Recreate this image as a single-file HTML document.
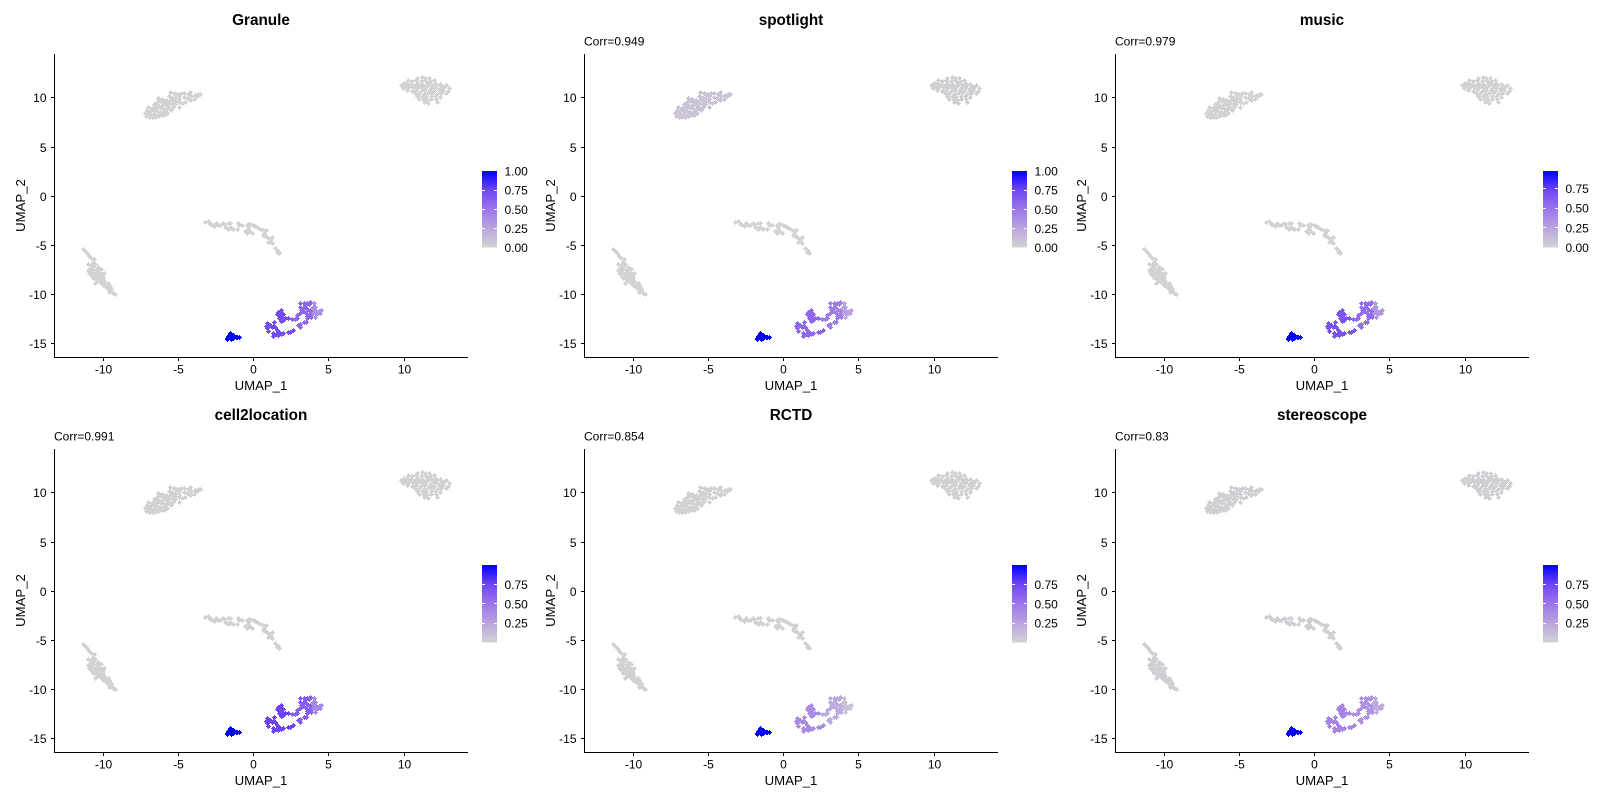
<!DOCTYPE html>
<html lang="en">
<head>
<meta charset="utf-8">
<title>UMAP deconvolution comparison - Granule</title>
<style>
html,body{margin:0;padding:0;background:#fff;width:1600px;height:800px;overflow:hidden}
svg{display:block;font-family:"Liberation Sans",Arial,sans-serif;fill:#000}
</style>
</head>
<body>
<svg id="chart" width="1600" height="800" viewBox="0 0 1600 800" xmlns="http://www.w3.org/2000/svg">
<defs>
<linearGradient id="legend-gradient" x1="0" y1="1" x2="0" y2="0">
<stop offset="0" stop-color="#D3D3D3"/>
<stop offset="0.25" stop-color="#BAA4DF"/>
<stop offset="0.5" stop-color="#9C76EB"/>
<stop offset="0.75" stop-color="#7047F5"/>
<stop offset="1" stop-color="#0000FF"/>
</linearGradient>
</defs>
</svg>
<script>
// ---- chart data (UMAP coordinates) ----
const panelTitles = ["Granule", "spotlight", "music", "cell2location", "RCTD", "stereoscope"];
const panelCorr = ["", "Corr=0.949", "Corr=0.979", "Corr=0.991", "Corr=0.854", "Corr=0.83"];
const xTicks = [-10, -5, 0, 5, 10];
const yTicks = [10, 5, 0, -5, -10, -15];

const legendDomains = [[0, 1], [0, 1], [0, 0.97], [0.002, 1], [0.002, 1], [0.002, 1]];
const legendTicks = [
  [0, 0.25, 0.5, 0.75, 1],
  [0, 0.25, 0.5, 0.75, 1],
  [0, 0.25, 0.5, 0.75],
  [0.25, 0.5, 0.75],
  [0.25, 0.5, 0.75],
  [0.25, 0.5, 0.75]
];

const clusterTopLeft = [[-7.1,8.1],[-6.9,8.0],[-6.7,8.0],[-6.5,7.95],[-6.3,8.05],[-7.2,8.4],[-7.0,8.35],[-6.75,8.3],[-6.55,8.3],[-6.3,8.35],[-6.1,8.2],[-5.9,8.25],[-7.05,8.7],[-6.85,8.65],[-6.6,8.6],[-6.35,8.65],[-6.15,8.55],[-5.9,8.6],[-5.7,8.45],[-7.0,9.0],[-6.7,8.95],[-6.45,8.95],[-6.2,8.9],[-5.95,8.9],[-5.7,8.8],[-5.45,8.7],[-6.6,9.3],[-6.3,9.25],[-6.05,9.2],[-5.8,9.2],[-5.55,9.05],[-5.3,9.0],[-6.4,9.55],[-6.15,9.6],[-5.9,9.5],[-5.65,9.45],[-5.4,9.35],[-5.15,9.3],[-4.95,9.05],[-6.3,9.9],[-6.05,9.85],[-5.75,9.75],[-5.5,9.7],[-5.2,9.6],[-4.95,9.5],[-4.7,9.4],[-5.6,10.1],[-5.4,10.0],[-5.15,9.95],[-4.9,9.85],[-5.54,10.57],[-5.25,10.4],[-5.1,10.3],[-5.0,10.35],[-4.8,10.45],[-4.6,10.4],[-4.9,10.15],[-4.6,10.05],[-4.4,9.9],[-4.55,9.5],[-4.2,9.75],[-4.35,10.35],[-4.1,10.1],[-3.95,9.85],[-3.85,10.25],[-3.65,10.3],[-3.5,10.35],[-3.75,10.1],[-4.2,10.55],[-6.9,8.5],[-6.45,8.15],[-6.05,8.4],[-6.55,9.1],[-5.6,8.95],[-5.25,9.45],[-6.0,9.65],[-5.35,9.8]];

const clusterTopRight = [[10.9,12.0],[11.2,12.05],[11.45,11.95],[11.7,12.0],[10.3,11.75],[10.55,11.7],[10.85,11.8],[11.15,11.7],[11.45,11.75],[11.75,11.7],[12.0,11.75],[10.0,11.5],[10.2,11.45],[10.5,11.4],[10.9,11.5],[11.2,11.4],[11.55,11.5],[11.85,11.4],[12.1,11.45],[12.4,11.4],[9.85,11.2],[10.15,11.15],[10.4,11.25],[10.75,11.2],[11.05,11.15],[11.3,11.2],[11.65,11.25],[11.95,11.15],[12.25,11.2],[12.55,11.15],[12.85,11.25],[9.95,10.95],[10.3,10.9],[10.6,11.0],[10.9,10.9],[11.2,10.95],[11.5,11.0],[11.8,10.9],[12.1,10.95],[12.4,10.9],[12.7,11.0],[13.05,10.95],[10.25,10.7],[10.55,10.65],[10.85,10.75],[11.15,10.65],[11.45,10.7],[11.75,10.75],[12.05,10.65],[12.35,10.7],[12.65,10.75],[12.95,10.65],[10.75,10.4],[11.05,10.45],[11.35,10.35],[11.6,10.4],[11.9,10.45],[12.2,10.35],[12.5,10.4],[12.8,10.45],[10.9,10.1],[11.2,10.15],[11.5,10.05],[11.8,10.1],[12.1,10.15],[12.4,10.05],[11.0,9.8],[11.3,9.85],[11.55,9.75],[11.85,9.8],[12.15,9.85],[11.35,9.5],[11.6,9.45],[12.2,9.55]];

const clusterMiddle = [[-3.16,-2.64],[-2.94,-2.71],[-2.76,-2.91],[-2.58,-3.08],[-2.43,-2.81],[-2.2,-2.95],[-1.98,-2.74],[-1.83,-3.15],[-1.65,-3.35],[-1.43,-3.32],[-1.65,-2.81],[-1.09,-3.39],[-0.98,-2.81],[-0.76,-2.98],[-0.43,-2.98],[-0.2,-2.88],[0.02,-2.98],[0.24,-3.22],[0.46,-3.42],[-0.31,-3.42],[-0.43,-3.76],[-0.09,-3.83],[0.64,-3.49],[0.86,-3.49],[0.69,-4.0],[0.91,-4.23],[1.13,-4.5],[1.02,-4.67],[1.24,-4.84],[1.24,-4.17],[1.53,-5.45],[1.58,-5.69],[1.73,-5.79],[-3.0,-2.6],[-2.85,-2.85],[-2.3,-3.0],[-1.75,-3.25],[-1.55,-3.2],[-1.3,-3.35],[-1.5,-2.75],[-0.9,-3.0],[-0.3,-2.9],[-0.35,-3.2],[-0.5,-3.55],[-0.25,-3.6],[0.1,-3.1],[0.8,-4.1],[1.0,-4.3],[0.75,-3.8],[1.45,-5.3],[1.65,-5.6],[-1.9,-2.9]];

const clusterLeft = [[-11.27,-5.45],[-11.14,-5.62],[-11.05,-5.86],[-10.91,-6.13],[-10.76,-6.37],[-10.58,-6.44],[-10.65,-6.71],[-10.47,-6.95],[-10.98,-6.95],[-10.76,-7.05],[-10.98,-7.56],[-10.87,-7.83],[-10.65,-7.49],[-10.43,-7.56],[-10.25,-7.39],[-10.07,-7.45],[-10.76,-8.06],[-10.54,-8.17],[-10.32,-8.06],[-10.09,-7.89],[-9.87,-7.89],[-10.65,-8.4],[-10.43,-8.5],[-10.2,-8.3],[-9.98,-8.4],[-10.47,-8.91],[-10.16,-8.74],[-9.87,-8.64],[-9.65,-8.91],[-9.98,-9.08],[-9.76,-9.25],[-9.54,-9.25],[-9.65,-9.52],[-9.43,-9.42],[-9.54,-9.76],[-9.32,-9.86],[-9.2,-10.0],[-10.83,-7.39],[-10.32,-7.22],[-10.09,-8.91],[-9.43,-9.59],[-10.9,-7.7],[-10.7,-7.75],[-10.5,-7.85],[-10.3,-7.75],[-10.6,-8.0],[-10.45,-8.25],[-10.25,-8.25],[-10.05,-8.15],[-10.6,-7.25],[-10.1,-8.6],[-10.35,-8.55],[-10.7,-7.55],[-9.85,-9.05],[-9.6,-9.05]];

const clusterBlue = [[-1.75,-14.45],[-1.65,-14.3],[-1.6,-14.15],[-1.5,-14.0],[-1.45,-14.3],[-1.35,-14.2],[-1.3,-14.45],[-1.55,-14.5],[-1.7,-14.6],[-1.45,-14.6],[-1.25,-14.3],[-1.15,-14.35],[-1.05,-14.35],[-0.9,-14.35]];

const clusterPurpleLower = [[0.91,-12.97],[0.87,-13.24],[0.96,-13.48],[1.02,-13.72],[1.24,-13.38],[1.47,-13.31],[1.58,-13.65],[1.73,-13.82],[1.36,-13.99],[1.31,-14.22],[1.51,-14.09],[1.69,-14.16],[1.84,-14.09],[1.98,-13.99],[2.31,-13.89],[2.47,-13.82],[2.64,-13.65],[1.1,-13.1],[1.0,-13.3],[1.3,-13.2],[1.42,-12.8],[1.84,-11.61],[1.69,-11.78],[1.91,-11.89],[1.62,-12.02],[1.8,-12.12],[1.98,-12.02],[1.76,-12.46],[1.91,-12.56],[2.02,-12.63],[1.84,-12.7],[1.9,-12.3],[1.7,-12.2],[2.13,-12.46],[2.31,-12.39]];

const clusterPurpleUpper = [[2.58,-12.53],[2.76,-12.56],[2.91,-12.46],[2.91,-12.12],[3.13,-11.95],[3.02,-13.14],[3.13,-13.31],[3.09,-13.07],[3.36,-12.8],[3.51,-12.8],[3.62,-12.46],[3.62,-12.22],[3.84,-12.36],[3.91,-12.02],[3.13,-10.94],[3.13,-11.27],[3.36,-11.27],[3.47,-11.11],[3.36,-10.87],[3.58,-10.94],[3.8,-10.77],[3.2,-11.61],[3.51,-11.89],[3.8,-11.68],[3.75,-12.05],[3.6,-11.5],[3.4,-11.4],[3.7,-11.05],[3.3,-11.75]];

const clusterPurpleLight = [[3.98,-11.27],[4.02,-10.94],[4.13,-11.61],[4.13,-12.29],[4.2,-12.02],[4.47,-11.95],[4.36,-11.68],[4.53,-11.61],[4.29,-11.95],[3.95,-11.4],[4.0,-11.9],[4.1,-11.3]];

const clusterNames = ["top-left", "top-right", "middle", "left", "blue", "purple-lower", "purple-upper", "purple-light"];
const clusterPoints = [clusterTopLeft, clusterTopRight, clusterMiddle, clusterLeft, clusterBlue, clusterPurpleLower, clusterPurpleUpper, clusterPurpleLight];

// expression value of each cluster, one array per panel
const valuesGranule      = [0,    0, 0, 0, 1, 0.72, 0.58, 0.36];
const valuesSpotlight    = [0.08, 0.02, 0, 0, 1, 0.58, 0.46, 0.26];
const valuesMusic        = [0,    0, 0, 0, 1, 0.68, 0.55, 0.32];
const valuesCell2location= [0.01, 0.01, 0.01, 0.01, 1, 0.76, 0.62, 0.40];
const valuesRCTD         = [0.01, 0.01, 0.01, 0.01, 1, 0.38, 0.22, 0.08];
const valuesStereoscope  = [0.02, 0.02, 0.02, 0.02, 1, 0.42, 0.34, 0.22];
const panelValues = [valuesGranule, valuesSpotlight, valuesMusic, valuesCell2location, valuesRCTD, valuesStereoscope];

// ---- layout ----
const NS = "http://www.w3.org/2000/svg";
const svg = document.getElementById("chart");
const colStep = 530.3, rowStep = 395;
const plotLeft = 54, plotRight = 468, plotTop = 54, plotBottom = 357;
const xScale = function (u) { return 253 + 15.05 * u; };
const yScale = function (u) { return 195.7 - 9.84 * u; };
const colorStops = [[211,211,211],[186,164,223],[156,118,235],[112,71,245],[0,0,255]];

function colorFor(v) {
  const t = Math.max(0, Math.min(1, v)) * (colorStops.length - 1);
  const i = Math.min(colorStops.length - 2, Math.floor(t));
  const f = t - i;
  const c = colorStops[i].map(function (a, k) { return Math.round(a + (colorStops[i + 1][k] - a) * f); });
  return "rgb(" + c.join(",") + ")";
}
function make(tag, parent) {
  const el = document.createElementNS(NS, tag);
  parent.appendChild(el);
  return el;
}
function line(parent, x1, y1, x2, y2, stroke) {
  const el = make("line", parent);
  el.setAttribute("x1", x1); el.setAttribute("y1", y1);
  el.setAttribute("x2", x2); el.setAttribute("y2", y2);
  el.setAttribute("stroke", stroke);
  el.setAttribute("stroke-width", 1);
  el.setAttribute("shape-rendering", "crispEdges");
  return el;
}
function text(parent, x, y, str, size, anchor, weight) {
  const el = make("text", parent);
  el.setAttribute("x", x); el.setAttribute("y", y);
  el.setAttribute("font-size", size);
  el.setAttribute("text-anchor", anchor);
  if (weight) el.setAttribute("font-weight", weight);
  el.textContent = str;
  return el;
}

panelTitles.forEach(function (title, p) {
  const col = p % 3, row = Math.floor(p / 3);
  const dx = Math.round(col * colStep), dy = row * rowStep;
  const g = make("g", svg);
  g.setAttribute("transform", "translate(" + dx + "," + dy + ")");
  
  

  // title and correlation
  const t = text(g, (plotLeft + plotRight) / 2, 25, title, 15.3, "middle", "bold");
  
  
  if (panelCorr[p]) {
    const c = text(g, plotLeft, 45.5, panelCorr[p], 12, "start");
    
    
  }

  // axes
  const yAxis = line(g, plotLeft + 0.5, plotTop, plotLeft + 0.5, plotBottom + 1, "#000");
  
  
  const xAxis = line(g, plotLeft, plotBottom + 0.5, plotRight, plotBottom + 0.5, "#000");
  
  

  xTicks.forEach(function (v) {
    const x = Math.round(xScale(v));
    const tick = line(g, x + 0.5, plotBottom + 1, x + 0.5, plotBottom + 4, "#000");
    
    
    const lab = text(g, x + 0.5, 373.5, String(v), 12, "middle");
    
    
  });
  yTicks.forEach(function (v) {
    const y = Math.round(yScale(v));
    const tick = line(g, plotLeft - 3, y + 0.5, plotLeft, y + 0.5, "#000");
    
    
    const lab = text(g, 46.5, y + 4.8, String(v), 12, "end");
    
    
  });

  const xt = text(g, (plotLeft + plotRight) / 2, 390, "UMAP_1", 13.2, "middle");
  
  
  const yt = text(g, 0, 0, "UMAP_2", 13.2, "middle");
  yt.setAttribute("transform", "translate(25,205.5) rotate(-90)");
  
  

  // points
  clusterPoints.forEach(function (pts, k) {
    const cg = make("g", g);
    
    
    cg.setAttribute("fill", colorFor(panelValues[p][k]));
    cg.setAttribute("shape-rendering", "crispEdges");
    pts.forEach(function (pt) {
      const x = Math.round(xScale(pt[0])), y = Math.round(yScale(pt[1]));
      const m = make("path", cg);
      m.setAttribute("d", "M" + (x - 2) + " " + y + "h5v1h-5zM" + x + " " + (y - 2) + "h1v5h-1zM" + (x - 1) + " " + (y - 1) + "h3v3h-3z");
      
      
    });
  });

  // legend
  const lg = make("g", g);
  
  
  const barX = 482, barW = 15;
  const barTop = row === 0 ? 171 : 170;
  const barBottom = 247.5;
  const bar = make("rect", lg);
  bar.setAttribute("x", barX); bar.setAttribute("y", barTop);
  bar.setAttribute("width", barW); bar.setAttribute("height", barBottom - barTop);
  bar.setAttribute("fill", "url(#legend-gradient)");
  
  
  const dom = legendDomains[p];
  const legendY = function (v) { return barBottom - (v - dom[0]) / (dom[1] - dom[0]) * (barBottom - barTop); };
  legendTicks[p].forEach(function (v) {
    const y = legendY(v);
    const yr = Math.min(barBottom - 1, Math.floor(y)) + 0.5;
    if (v > dom[0] && v < dom[1]) {
      const a = line(lg, barX, yr, barX + 3, yr, "#fff");
      
      
      const b = line(lg, barX + barW - 3, yr, barX + barW, yr, "#fff");
      
      
    }
    const lab = text(lg, 504.5, y + 4.5, v.toFixed(2), 12, "start");
    
    
  });
});
</script>
</body>
</html>
